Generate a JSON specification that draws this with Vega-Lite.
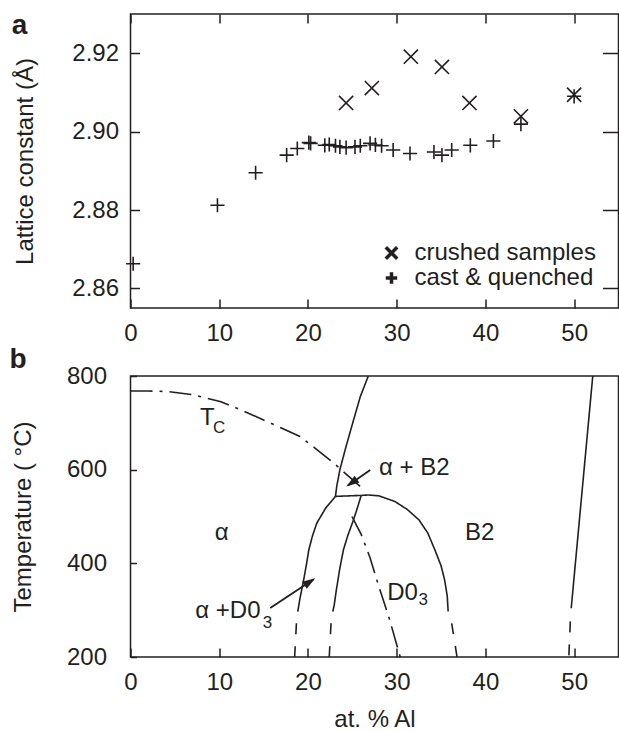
{
  "$schema": "https://vega.github.io/schema/vega-lite/v6.json",
  "padding": {"left": 8.5, "top": 11, "right": 0, "bottom": 0},
  "spacing": -1,
  "config": {
    "font": "Liberation Sans",
    "view": {"stroke": "#231f20", "strokeWidth": 1.5},
    "axis": {"domain": false, "grid": false, "tickSize": -9, "tickWidth": 1.5, "tickColor": "#231f20", "labelFontSize": 24, "labelColor": "#231f20", "titleFontSize": 24, "titleFontWeight": "normal", "titleColor": "#231f20", "labelFont": "Liberation Sans", "titleFont": "Liberation Sans", "labelFlush": false},
    "title": {"font": "Liberation Sans", "color": "#231f20"}
  },
  "vconcat": [
    {
      "width": 488,
      "height": 294,
      "title": {"text": "a", "anchor": "start", "frame": "bounds", "fontSize": 28, "fontWeight": "bold", "offset": 0, "dy": 27, "dx": -2},
      "data": {"values": [
        {"al": 24.3, "a": 2.9073, "series": "crushed samples"},
        {"al": 27.2, "a": 2.9111, "series": "crushed samples"},
        {"al": 31.6, "a": 2.9191, "series": "crushed samples"},
        {"al": 35.1, "a": 2.9165, "series": "crushed samples"},
        {"al": 38.2, "a": 2.9073, "series": "crushed samples"},
        {"al": 44.0, "a": 2.9039, "series": "crushed samples"},
        {"al": 50.0, "a": 2.9094, "series": "crushed samples"},
        {"al": 0.3, "a": 2.8663, "series": "cast & quenched"},
        {"al": 9.8, "a": 2.8812, "series": "cast & quenched"},
        {"al": 14.1, "a": 2.8895, "series": "cast & quenched"},
        {"al": 17.6, "a": 2.8940, "series": "cast & quenched"},
        {"al": 18.8, "a": 2.8957, "series": "cast & quenched"},
        {"al": 20.1, "a": 2.8972, "series": "cast & quenched"},
        {"al": 20.3, "a": 2.8970, "series": "cast & quenched"},
        {"al": 21.9, "a": 2.8965, "series": "cast & quenched"},
        {"al": 22.4, "a": 2.8967, "series": "cast & quenched"},
        {"al": 23.1, "a": 2.8964, "series": "cast & quenched"},
        {"al": 23.6, "a": 2.8961, "series": "cast & quenched"},
        {"al": 24.3, "a": 2.8959, "series": "cast & quenched"},
        {"al": 25.3, "a": 2.8961, "series": "cast & quenched"},
        {"al": 25.9, "a": 2.8964, "series": "cast & quenched"},
        {"al": 27.0, "a": 2.8970, "series": "cast & quenched"},
        {"al": 27.6, "a": 2.8966, "series": "cast & quenched"},
        {"al": 28.3, "a": 2.8964, "series": "cast & quenched"},
        {"al": 29.6, "a": 2.8953, "series": "cast & quenched"},
        {"al": 31.5, "a": 2.8944, "series": "cast & quenched"},
        {"al": 34.2, "a": 2.8948, "series": "cast & quenched"},
        {"al": 35.1, "a": 2.8940, "series": "cast & quenched"},
        {"al": 36.2, "a": 2.8953, "series": "cast & quenched"},
        {"al": 38.3, "a": 2.8965, "series": "cast & quenched"},
        {"al": 40.9, "a": 2.8976, "series": "cast & quenched"},
        {"al": 44.0, "a": 2.9019, "series": "cast & quenched"},
        {"al": 50.0, "a": 2.9090, "series": "cast & quenched"}
      ]},
      "layer": [
        {
          "mark": {"type": "point", "filled": false, "color": "#231f20", "strokeWidth": 1.6, "opacity": 1, "size": 200},
          "encoding": {
            "x": {"field": "al", "type": "quantitative", "scale": {"domain": [0, 55], "nice": false, "zero": false}, "axis": {"values": [0, 10, 20, 30, 40, 50], "title": null, "labelPadding": 22}},
            "y": {"field": "a", "type": "quantitative", "scale": {"domain": [2.855, 2.93], "nice": false, "zero": false}, "axis": {"values": [2.86, 2.88, 2.9, 2.92], "format": ".2f", "title": "Lattice constant (Å)", "labelPadding": 21, "titlePadding": 34}},
            "shape": {"field": "series", "type": "nominal", "scale": {"domain": ["crushed samples", "cast & quenched"], "range": ["M-1,-1L1,1M-1,1L1,-1", "M-1,0L1,0M0,-1L0,1"]},
              "legend": {"orient": "none", "legendX": 249, "legendY": 227, "title": null, "labelFontSize": 24, "labelLimit": 0, "labelColor": "#231f20", "labelFont": "Liberation Sans", "symbolSize": 130, "symbolStrokeWidth": 3.5, "symbolStrokeColor": "#231f20", "symbolFillColor": "transparent", "labelOffset": 11, "rowPadding": -5, "padding": 0}}
          }
        },
        {
          "mark": {"type": "point", "opacity": 0},
          "encoding": {
            "x": {"field": "al", "type": "quantitative", "scale": {"domain": [0, 55], "nice": false, "zero": false}, "axis": {"orient": "top", "labels": false, "title": null, "values": [0, 10, 20, 30, 40, 50]}},
            "y": {"field": "a", "type": "quantitative", "scale": {"domain": [2.855, 2.93], "nice": false, "zero": false}, "axis": {"orient": "right", "labels": false, "title": null, "values": [2.86, 2.88, 2.9, 2.92], "tickSize": -16}}
          }
        }
      ],
      "resolve": {"axis": {"x": "independent", "y": "independent"}}
    },
    {
      "width": 488,
      "height": 281,
      "title": {"text": "b", "anchor": "start", "frame": "bounds", "fontSize": 28, "fontWeight": "bold", "offset": 0, "dy": 10, "dx": -2},
      "layer": [
        {
          "data": {"values": [
            {"seg": "Tc", "style": "dashdot", "i": 0, "al": 0, "T": 768},
            {"seg": "Tc", "style": "dashdot", "i": 1, "al": 2, "T": 768},
            {"seg": "Tc", "style": "dashdot", "i": 2, "al": 4.1, "T": 767},
            {"seg": "Tc", "style": "dashdot", "i": 3, "al": 7, "T": 760},
            {"seg": "Tc", "style": "dashdot", "i": 4, "al": 10.2, "T": 745},
            {"seg": "Tc", "style": "dashdot", "i": 5, "al": 12.4, "T": 728},
            {"seg": "Tc", "style": "dashdot", "i": 6, "al": 15, "T": 706},
            {"seg": "Tc", "style": "dashdot", "i": 7, "al": 17, "T": 689},
            {"seg": "Tc", "style": "dashdot", "i": 8, "al": 19.1, "T": 671},
            {"seg": "Tc", "style": "dashdot", "i": 9, "al": 21, "T": 643},
            {"seg": "Tc", "style": "dashdot", "i": 10, "al": 22.9, "T": 614},
            {"seg": "Tc", "style": "dashdot", "i": 11, "al": 24.4, "T": 589},
            {"seg": "Tc", "style": "dashdot", "i": 12, "al": 25.9, "T": 564},
            {"seg": "ord", "style": "dashdot", "i": 0, "al": 24.96, "T": 500},
            {"seg": "ord", "style": "dashdot", "i": 1, "al": 26.0, "T": 462},
            {"seg": "ord", "style": "dashdot", "i": 2, "al": 27.0, "T": 412},
            {"seg": "ord", "style": "dashdot", "i": 3, "al": 27.9, "T": 356},
            {"seg": "ord", "style": "dashdot", "i": 4, "al": 29.2, "T": 280},
            {"seg": "ord", "style": "dashdot", "i": 5, "al": 30.4, "T": 200},
            {"seg": "aB2", "style": "solid", "i": 0, "al": 26.8, "T": 800},
            {"seg": "aB2", "style": "solid", "i": 1, "al": 25.9, "T": 756},
            {"seg": "aB2", "style": "solid", "i": 2, "al": 25.14, "T": 706},
            {"seg": "aB2", "style": "solid", "i": 3, "al": 24.3, "T": 650},
            {"seg": "aB2", "style": "solid", "i": 4, "al": 23.6, "T": 600},
            {"seg": "aB2", "style": "solid", "i": 5, "al": 23.25, "T": 565},
            {"seg": "aB2", "style": "solid", "i": 6, "al": 23.1, "T": 543},
            {"seg": "tie", "style": "solid", "i": 0, "al": 23.1, "T": 543},
            {"seg": "tie", "style": "solid", "i": 1, "al": 26.0, "T": 545},
            {"seg": "aD", "style": "solid", "i": 0, "al": 23.1, "T": 543},
            {"seg": "aD", "style": "solid", "i": 1, "al": 22.0, "T": 518},
            {"seg": "aD", "style": "solid", "i": 2, "al": 21.0, "T": 486},
            {"seg": "aD", "style": "solid", "i": 3, "al": 20.5, "T": 458},
            {"seg": "aD", "style": "solid", "i": 4, "al": 20.1, "T": 429},
            {"seg": "aD", "style": "solid", "i": 5, "al": 19.85, "T": 400},
            {"seg": "aD", "style": "solid", "i": 6, "al": 19.55, "T": 368},
            {"seg": "aD", "style": "solid", "i": 7, "al": 19.1, "T": 325},
            {"seg": "aD", "style": "solid", "i": 8, "al": 18.85, "T": 297},
            {"seg": "aDd", "style": "dashed", "i": 0, "al": 18.7, "T": 272},
            {"seg": "aDd", "style": "dashed", "i": 1, "al": 18.5, "T": 200},
            {"seg": "DL", "style": "solid", "i": 0, "al": 26.0, "T": 545},
            {"seg": "DL", "style": "solid", "i": 1, "al": 25.6, "T": 520},
            {"seg": "DL", "style": "solid", "i": 2, "al": 25.14, "T": 493},
            {"seg": "DL", "style": "solid", "i": 3, "al": 24.5, "T": 460},
            {"seg": "DL", "style": "solid", "i": 4, "al": 24.0, "T": 429},
            {"seg": "DL", "style": "solid", "i": 5, "al": 23.6, "T": 390},
            {"seg": "DL", "style": "solid", "i": 6, "al": 23.2, "T": 343},
            {"seg": "DL", "style": "solid", "i": 7, "al": 22.95, "T": 310},
            {"seg": "DL", "style": "solid", "i": 8, "al": 22.8, "T": 297},
            {"seg": "DLd", "style": "dashed", "i": 0, "al": 22.6, "T": 272},
            {"seg": "DLd", "style": "dashed", "i": 1, "al": 22.4, "T": 200},
            {"seg": "dome", "style": "solid", "i": 0, "al": 26.0, "T": 545},
            {"seg": "dome", "style": "solid", "i": 1, "al": 26.8, "T": 546},
            {"seg": "dome", "style": "solid", "i": 2, "al": 28.0, "T": 544},
            {"seg": "dome", "style": "solid", "i": 3, "al": 29.8, "T": 532},
            {"seg": "dome", "style": "solid", "i": 4, "al": 31.2, "T": 515},
            {"seg": "dome", "style": "solid", "i": 5, "al": 32.5, "T": 493},
            {"seg": "dome", "style": "solid", "i": 6, "al": 33.5, "T": 465},
            {"seg": "dome", "style": "solid", "i": 7, "al": 34.3, "T": 429},
            {"seg": "dome", "style": "solid", "i": 8, "al": 35.0, "T": 395},
            {"seg": "dome", "style": "solid", "i": 9, "al": 35.4, "T": 365},
            {"seg": "dome", "style": "solid", "i": 10, "al": 35.7, "T": 330},
            {"seg": "dome", "style": "solid", "i": 11, "al": 35.8, "T": 297},
            {"seg": "domed", "style": "dashed", "i": 0, "al": 36.2, "T": 272},
            {"seg": "domed", "style": "dashed", "i": 1, "al": 36.8, "T": 200},
            {"seg": "right", "style": "solid", "i": 0, "al": 52.1, "T": 800},
            {"seg": "right", "style": "solid", "i": 1, "al": 49.67, "T": 304},
            {"seg": "rightd", "style": "dashed", "i": 0, "al": 49.57, "T": 276},
            {"seg": "rightd", "style": "dashed", "i": 1, "al": 49.4, "T": 200}
          ]},
          "mark": {"type": "line", "color": "#231f20", "strokeWidth": 1.6},
          "encoding": {
            "x": {"field": "al", "type": "quantitative", "scale": {"domain": [0, 55], "nice": false, "zero": false}, "axis": {"values": [0, 10, 20, 30, 40, 50], "title": "at. % Al", "labelPadding": 22, "titlePadding": 13}},
            "y": {"field": "T", "type": "quantitative", "scale": {"domain": [200, 800], "nice": false, "zero": false}, "axis": {"values": [200, 400, 600, 800], "title": "Temperature ( °C)", "labelPadding": 30, "titlePadding": 31, "tickSize": -6}},
            "detail": {"field": "seg", "type": "nominal"},
            "order": {"field": "i", "type": "quantitative"},
            "strokeDash": {"field": "style", "type": "nominal", "scale": {"domain": ["solid", "dashed", "dashdot"], "range": [[1, 0], [11, 12], [22, 7, 3, 7]]}, "legend": null}
          }
        },
        {
          "data": {"values": [
            {"al": 7.83, "T": 695.5, "label": "T"},
            {"al": 9.5, "T": 450, "label": "α"},
            {"al": 37.71, "T": 450, "label": "B2"},
            {"al": 28.0, "T": 589, "label": "α + B2"},
            {"al": 28.94, "T": 322, "label": "D0"},
            {"al": 7.3, "T": 283, "label": "α +D0"}
          ]},
          "mark": {"type": "text", "align": "left", "baseline": "alphabetic", "fontSize": 24, "color": "#231f20", "font": "Liberation Sans"},
          "encoding": {
            "x": {"field": "al", "type": "quantitative"},
            "y": {"field": "T", "type": "quantitative"},
            "text": {"field": "label"}
          }
        },
        {
          "data": {"values": [
            {"al": 9.3, "T": 678, "label": "C"},
            {"al": 32.45, "T": 311.5, "label": "3"},
            {"al": 14.9, "T": 262, "label": "3"}
          ]},
          "mark": {"type": "text", "align": "left", "baseline": "alphabetic", "fontSize": 17, "color": "#231f20", "font": "Liberation Sans"},
          "encoding": {
            "x": {"field": "al", "type": "quantitative"},
            "y": {"field": "T", "type": "quantitative"},
            "text": {"field": "label"}
          }
        },
        {
          "data": {"values": [
            {"x0": 27.02, "T0": 599.5, "x1": 24.5, "T1": 566},
            {"x0": 15.75, "T0": 304.4, "x1": 20.65, "T1": 366}
          ]},
          "mark": {"type": "rule", "color": "#231f20", "strokeWidth": 1.8},
          "encoding": {
            "x": {"field": "x0", "type": "quantitative"},
            "y": {"field": "T0", "type": "quantitative"},
            "x2": {"field": "x1"},
            "y2": {"field": "T1"}
          }
        },
        {
          "data": {"values": [{"x": 24.32, "T": 564}]},
          "mark": {"type": "point", "shape": "M0,0L-0.65,2L0.65,2Z", "filled": true, "size": 169, "angle": 235.3, "opacity": 1, "color": "#231f20"},
          "encoding": {
            "x": {"field": "x", "type": "quantitative"},
            "y": {"field": "T", "type": "quantitative"}
          }
        },
        {
          "data": {"values": [{"x": 20.82, "T": 368.4}]},
          "mark": {"type": "point", "shape": "M0,0L-0.65,2L0.65,2Z", "filled": true, "size": 169, "angle": 56.3, "opacity": 1, "color": "#231f20"},
          "encoding": {
            "x": {"field": "x", "type": "quantitative"},
            "y": {"field": "T", "type": "quantitative"}
          }
        }
      ]
    }
  ]
}
